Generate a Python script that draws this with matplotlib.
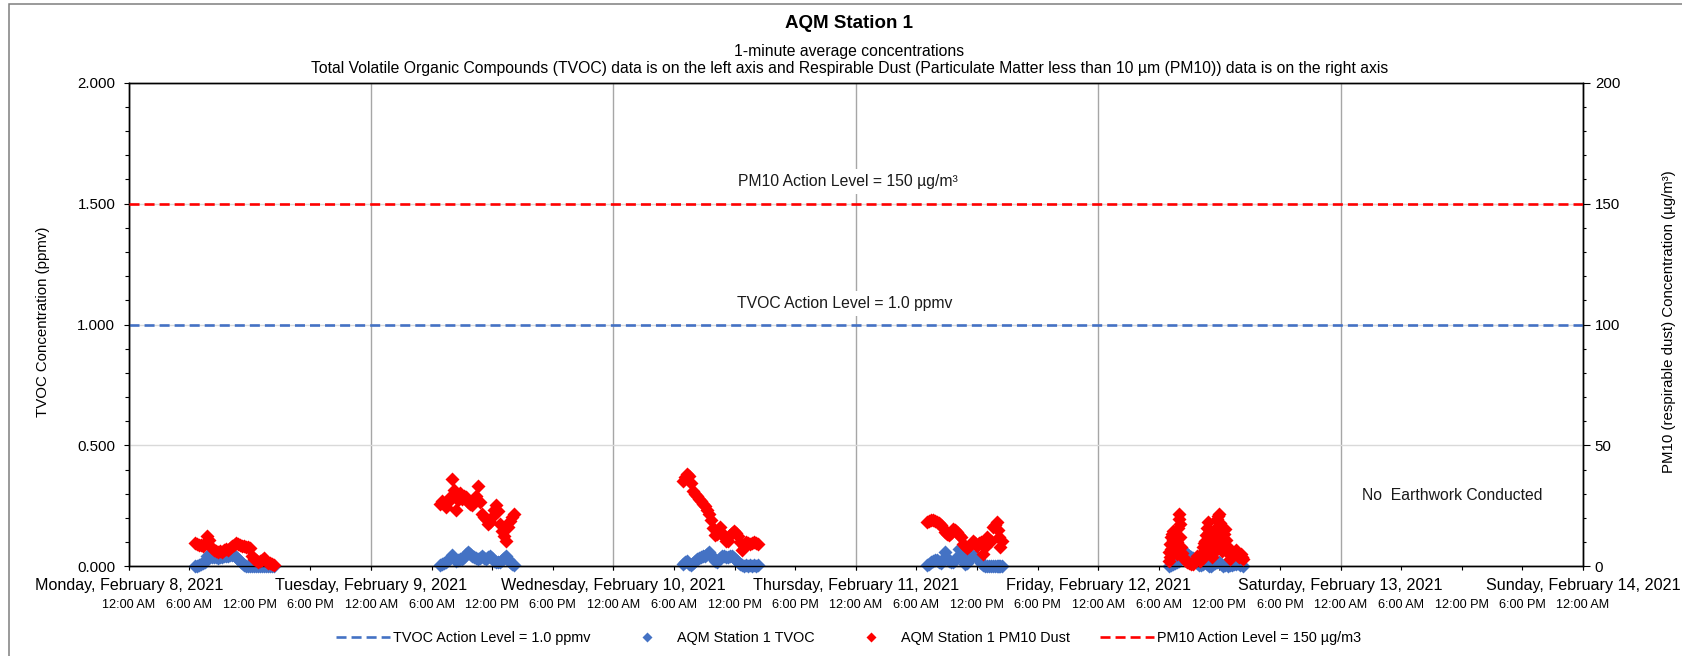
import matplotlib
matplotlib.use("Agg")
import matplotlib.pyplot as plt
from matplotlib.patches import Rectangle
from matplotlib.ticker import MultipleLocator, FixedLocator
from matplotlib.transforms import blended_transform_factory

plt.rcParams['font.family'] = ['Liberation Sans', 'DejaVu Sans']

# ---------------- data (hours of day, values) ----------------
day_labels = ["Monday, February 8, 2021", "Tuesday, February 9, 2021",
              "Wednesday, February 10, 2021", "Thursday, February 11, 2021",
              "Friday, February 12, 2021", "Saturday, February 13, 2021",
              "Sunday, February 14, 2021"]
time_labels = ["12:00 AM", "6:00 AM", "12:00 PM", "6:00 PM"]

tvoc_action = 1.0      # ppmv
pm10_action = 150.0    # ug/m3

mon_hours = [6.6, 6.8, 7.0, 7.2, 7.4, 7.6, 7.8, 8.0, 8.2, 8.4, 8.6, 8.8, 9.0, 9.2, 9.4, 9.6, 9.8, 10.0, 10.2, 10.4,
             10.6, 10.8, 11.0, 11.2, 11.4, 11.6, 11.8, 12.0, 12.2, 12.4, 12.6, 12.8, 13.0, 13.2, 13.4, 13.6, 13.8, 14.0, 14.2, 14.4]
mon_pm10 = [9.8, 9.4, 9.0, 8.8, 8.4, 9.5, 12.5, 11.0, 7.5, 6.8, 6.2, 5.8, 6.4, 6.0, 6.8, 7.2, 6.9, 7.8, 8.4, 9.0,
            9.6, 9.2, 8.8, 8.4, 8.6, 8.0, 8.2, 7.6, 4.5, 3.2, 2.6, 2.0, 2.4, 2.8, 3.4, 2.4, 1.6, 1.4, 0.8, 0.4]
mon_tvoc = [0.000, 0.002, 0.005, 0.010, 0.013, 0.020, 0.042, 0.045, 0.040, 0.037, 0.039, 0.036, 0.040, 0.038, 0.041,
            0.043, 0.045, 0.047, 0.048, 0.046, 0.038, 0.030, 0.022, 0.012, 0.006, 0.003, 0.002, 0.001, 0.001, 0.000,
            0.001, 0.000, 0.001, 0.000, 0.001, 0.000, 0.001, 0.000, 0.000, 0.000]

tue_hours = [6.8, 7.0, 7.2, 7.4, 7.6, 7.8, 8.0, 8.2, 8.4, 8.6, 8.8, 9.0, 9.2, 9.4, 9.6, 9.8, 10.0, 10.2, 10.4, 10.6,
             10.8, 11.0, 11.2, 11.4, 11.6, 11.8, 12.0, 12.2, 12.4, 12.6, 12.8, 13.0, 13.2, 13.4, 13.6, 13.8, 14.0, 14.2]
tue_pm10 = [25.9, 27.0, 26.0, 24.5, 26.5, 28.6, 36.2, 31.4, 23.5, 27.5, 30.5, 27.9, 29.0, 28.5, 26.5, 25.8, 25.2, 27.0,
            29.0, 33.4, 26.5, 21.7, 20.5, 19.5, 17.6, 18.5, 20.3, 23.5, 25.2, 23.1, 17.6, 14.5, 12.5, 10.4, 16.2, 18.8,
            20.3, 21.7]
tue_tvoc = [0.004, 0.010, 0.015, 0.020, 0.027, 0.035, 0.049, 0.035, 0.024, 0.028, 0.032, 0.031, 0.040, 0.052, 0.059,
            0.050, 0.042, 0.038, 0.035, 0.031, 0.036, 0.041, 0.036, 0.031, 0.040, 0.045, 0.035, 0.024, 0.020, 0.018,
            0.017, 0.025, 0.035, 0.041, 0.030, 0.017, 0.008, 0.004]

wed_hours = [6.9, 7.1, 7.3, 7.5, 7.7, 7.9, 8.1, 8.3, 8.5, 8.7, 8.9, 9.1, 9.3, 9.5, 9.7, 9.9, 10.1, 10.3, 10.5, 10.7,
             10.9, 11.1, 11.3, 11.5, 11.7, 11.9, 12.1, 12.3, 12.5, 12.7, 12.9, 13.1, 13.3, 13.5, 13.7, 13.9, 14.1, 14.3]
wed_pm10 = [35.5, 37.0, 38.3, 37.5, 34.5, 31.0, 30.0, 29.0, 28.0, 27.0, 26.0, 25.0, 23.5, 21.5, 19.0, 16.0, 13.0, 13.5,
            16.2, 14.0, 12.1, 10.5, 10.5, 12.8, 13.8, 14.8, 14.0, 12.5, 10.0, 6.6, 8.5, 10.0, 9.5, 9.3, 9.8, 10.2, 9.8, 9.3]
wed_tvoc = [0.011, 0.020, 0.024, 0.008, 0.004, 0.015, 0.024, 0.030, 0.036, 0.038, 0.042, 0.045, 0.052, 0.059, 0.045,
            0.038, 0.022, 0.017, 0.035, 0.045, 0.042, 0.038, 0.040, 0.044, 0.045, 0.036, 0.026, 0.018, 0.010, 0.004,
            0.003, 0.004, 0.003, 0.004, 0.003, 0.004, 0.003, 0.004]

thu_hours = [7.0, 7.2, 7.4, 7.6, 7.8, 8.0, 8.2, 8.4, 8.6, 8.8, 9.0, 9.2, 9.4, 9.6, 9.8, 10.0, 10.2, 10.4, 10.6, 10.8,
             11.0, 11.2, 11.4, 11.6, 11.8, 12.0, 12.2, 12.4, 12.6, 12.8, 13.0, 13.2, 13.4, 13.6, 13.8, 14.0, 14.1, 14.2, 14.3, 14.5]
thu_pm10 = [18.3, 18.8, 19.0, 19.2, 18.8, 18.3, 17.8, 17.2, 16.0, 14.1, 13.5, 12.8, 14.0, 15.5, 15.0, 14.1, 13.0, 12.1,
            9.3, 8.5, 7.7, 8.5, 9.3, 10.7, 9.8, 8.6, 9.5, 10.0, 5.2, 8.0, 12.1, 11.0, 10.7, 16.2, 17.0, 18.3, 15.0, 12.1,
            7.9, 10.7]
thu_tvoc = [0.004, 0.010, 0.017, 0.022, 0.027, 0.027, 0.018, 0.012, 0.030, 0.059, 0.035, 0.024, 0.020, 0.017, 0.028,
            0.038, 0.073, 0.050, 0.030, 0.010, 0.015, 0.027, 0.038, 0.045, 0.042, 0.038, 0.030, 0.015, 0.004, 0.002,
            0.002, 0.002, 0.002, 0.002, 0.002, 0.002, 0.002, 0.002, 0.002, 0.002]

fri_pm10_hours = [7.0, 7.05, 7.1, 7.2, 7.3, 7.4, 7.5, 7.6, 7.7, 7.8, 7.9, 7.95, 8.0, 8.05, 8.1, 8.2, 8.3, 8.4, 8.6, 8.8,
                  9.0, 9.2, 9.4, 9.6, 9.8, 10.0, 10.1, 10.3, 10.4, 10.5, 10.6, 10.7, 10.8, 10.9, 11.0, 11.1, 11.2, 11.3,
                  11.5, 11.6, 11.7, 11.8, 11.9, 12.0, 12.05, 12.1, 12.2, 12.3, 12.5, 12.6, 12.7, 12.8, 12.9, 13.0, 13.2,
                  13.3, 13.5, 13.6, 13.8, 13.9, 14.0, 14.1, 14.2, 14.3]
fri_pm10 = [2.4, 6.0, 9.3, 12.0, 13.5, 14.8, 14.0, 12.0, 10.7, 10.0, 16.0, 21.7, 19.5, 17.5, 12.0, 7.9, 5.5, 3.8, 2.5,
            1.7, 1.2, 1.0, 0.9, 2.5, 4.5, 3.0, 2.4, 5.5, 7.9, 9.5, 10.7, 13.0, 16.0, 18.3, 14.1, 11.0, 9.3, 8.0, 10.7,
            12.0, 16.0, 19.7, 21.0, 21.7, 18.0, 14.1, 11.5, 10.7, 13.5, 15.5, 11.0, 7.9, 5.0, 3.1, 4.2, 5.2, 6.0, 6.6,
            4.5, 3.8, 4.4, 5.2, 4.0, 3.1]
# lower readings inside the dense Friday clusters
fri_pm10_low_hours = [7.15, 7.25, 7.35, 7.45, 7.55, 7.65, 7.75, 7.85, 10.35, 10.45, 10.55, 10.65, 10.75, 10.85,
                      10.95, 11.05, 11.15, 11.25, 11.4, 11.55, 11.65, 11.75, 11.85, 11.95, 12.15, 12.25, 12.4,
                      12.45, 12.55]
fri_pm10_low = [4.0, 7.0, 9.0, 11.0, 8.5, 6.5, 5.0, 7.0, 3.5, 5.0, 6.0, 8.0, 5.5, 9.0, 10.0, 6.0, 5.0, 4.0, 5.5, 6.5,
                8.0, 9.0, 12.0, 9.5, 8.0, 6.5, 8.0, 11.0, 9.0]
fri_tvoc_hours = [7.0, 7.2, 7.4, 7.6, 7.8, 8.0, 8.2, 8.4, 8.6, 8.8, 9.0, 9.2, 9.4, 9.6, 9.8, 10.0, 10.2, 10.4, 10.6,
                  10.8, 11.0, 11.2, 11.4, 11.6, 11.8, 12.0, 12.2, 12.4, 12.6, 12.8, 13.0, 13.2, 13.4, 13.6, 13.8, 14.0, 14.3]
fri_tvoc = [0.000, 0.004, 0.008, 0.012, 0.018, 0.024, 0.035, 0.050, 0.059, 0.052, 0.045, 0.040, 0.035, 0.024, 0.015,
            0.004, 0.004, 0.010, 0.017, 0.010, 0.002, 0.000, 0.008, 0.012, 0.017, 0.017, 0.008, 0.002, 0.004, 0.002,
            0.004, 0.006, 0.008, 0.010, 0.012, 0.006, 0.002]

tvoc_days = [(0, mon_hours, mon_tvoc), (1, tue_hours, tue_tvoc), (2, wed_hours, wed_tvoc),
             (3, thu_hours, thu_tvoc), (4, fri_tvoc_hours, fri_tvoc)]
pm10_days = [(0, mon_hours, mon_pm10), (1, tue_hours, tue_pm10), (2, wed_hours, wed_pm10),
             (3, thu_hours, thu_pm10), (4, fri_pm10_hours, fri_pm10), (4, fri_pm10_low_hours, fri_pm10_low)]

tvoc_x, tvoc_y = [], []
for d, hrs, vals in tvoc_days:
    tvoc_x += [24 * d + h for h in hrs]
    tvoc_y += list(vals)
pm10_x, pm10_y = [], []
for d, hrs, vals in pm10_days:
    pm10_x += [24 * d + h for h in hrs]
    pm10_y += list(vals)

BLUE = '#4472C4'
RED = '#FF0000'

# ---------------- figure ----------------
W, H = 1682, 656
fig = plt.figure(figsize=(W / 100, H / 100), dpi=100)
L, R, T, B = 128.7, 1583.0, 82.6, 566.4
ax = fig.add_axes([L / W, 1 - B / H, (R - L) / W, (B - T) / H])
ax2 = ax.twinx()

ax.set_xlim(0, 144)
ax.set_ylim(0, 2.0)
ax2.set_ylim(0, 200)

# grid / ticks
ax.yaxis.set_major_locator(FixedLocator([0, 0.5, 1.0, 1.5, 2.0]))
ax.yaxis.set_minor_locator(MultipleLocator(0.1))
ax.set_yticklabels(["%.3f" % v for v in [0, 0.5, 1.0, 1.5, 2.0]])
ax.grid(axis='y', which='major', color='#D9D9D9', lw=1.0, zorder=0)

ax.xaxis.remove_overlapping_locs = False
ax.set_xticks([24 * i for i in range(7)])
ax.set_xticks([6 * i for i in range(25)], [time_labels[i % 4] for i in range(25)], minor=True)
ax.tick_params(axis='x', which='major', labelbottom=False, direction='out', length=2.9, width=0.8)
ax.tick_params(axis='x', which='minor', direction='out', length=2.9, width=0.8, pad=20.5, labelsize=9.1)
ax.grid(axis='x', which='major', color='#A6A6A6', lw=1.0)
ax.tick_params(axis='y', which='major', direction='out', length=3.3, width=0.8, pad=6.3, labelsize=10.8)
ax.tick_params(axis='y', which='minor', direction='out', length=3.0, width=0.8)
ax.set_axisbelow(True)

ax2.yaxis.set_major_locator(MultipleLocator(50))
ax2.yaxis.set_minor_locator(MultipleLocator(10))
ax2.tick_params(axis='y', which='major', direction='out', length=5, width=0.8, pad=3.5, labelsize=10.8)
ax2.tick_params(axis='y', which='minor', direction='out', length=2.2, width=0.8)

for a in (ax, ax2):
    for s in a.spines.values():
        s.set_color('black')
        s.set_linewidth(1.0)

# action levels
ax.axhline(tvoc_action, color=BLUE, lw=1.9, ls=(0, (3.8, 1.9)), zorder=3,
           label='TVOC Action Level = 1.0 ppmv')
ax2.axhline(pm10_action, color=RED, lw=1.9, ls=(0, (3.8, 1.9)), zorder=3,
            label='PM10 Action Level = 150 µg/m3')

# data
ax.plot(tvoc_x, tvoc_y, ls='none', marker='D', ms=7.6, mec='none', color=BLUE, clip_on=False, zorder=4,
        label='AQM Station 1 TVOC')
ax2.plot(pm10_x, pm10_y, ls='none', marker='D', ms=7.6, mec='none', color=RED, clip_on=False, zorder=4,
         label='AQM Station 1 PM10 Dust')

# annotations
ann_kw = dict(ha='center', va='center', fontsize=11.3, color='#1a1a1a',
              bbox=dict(facecolor='white', edgecolor='none', pad=3.5), zorder=5)
ax2.text(71.2, 159.0, 'PM10 Action Level = 150 µg/m³', **ann_kw)
ax2.text(70.9, 108.8, 'TVOC Action Level = 1.0 ppmv', **ann_kw)
ax2.text(131.1, 29.5, 'No  Earthwork Conducted', ha='center', va='center', fontsize=11.3, color='#1a1a1a')

# day labels
tr = blended_transform_factory(ax.transData, ax.transAxes)
for i, lab in enumerate(day_labels):
    ax.text(24 * i, -0.0399, lab, transform=tr, ha='center', va='center', fontsize=11.6, clip_on=False)

# axis labels
fig.text(43 / W, 1 - 322 / H, 'TVOC Concentration (ppmv)', rotation=90, ha='center', va='center', fontsize=10.8)
fig.text(1669 / W, 1 - 322 / H, 'PM10 (respirable dust) Concentration (µg/m³)', rotation=90,
         ha='center', va='center', fontsize=10.8)

# titles
fig.text(0.505, 1 - 23 / H, 'AQM Station 1', ha='center', va='center', fontsize=13.5, fontweight='bold')
fig.text(0.505, 1 - 51.5 / H, '1-minute average concentrations', ha='center', va='center', fontsize=11.3)
fig.text(0.505, 1 - 68.5 / H,
         'Total Volatile Organic Compounds (TVOC) data is on the left axis and Respirable Dust '
         '(Particulate Matter less than 10 µm (PM10)) data is on the right axis',
         ha='center', va='center', fontsize=11.3)

# legend
h1, l1 = ax.get_legend_handles_labels()
h2, l2 = ax2.get_legend_handles_labels()
hd = dict(zip(l1 + l2, h1 + h2))
order = ['TVOC Action Level = 1.0 ppmv', 'AQM Station 1 TVOC', 'AQM Station 1 PM10 Dust',
         'PM10 Action Level = 150 µg/m3']
fig.legend([hd[k] for k in order], order, loc='center', bbox_to_anchor=(848.5 / W, 1 - 638 / H), ncol=4,
           frameon=False, fontsize=10.4, handlelength=3.7, handletextpad=0.2, columnspacing=2.1,
           markerscale=0.67)

# outer border
fig.patches.append(Rectangle((9 / W, -0.05), 1.2, 1 - 4.5 / H + 0.05, transform=fig.transFigure,
                             fill=False, edgecolor='#7F7F7F', lw=1.1))

fig.savefig('out.png', dpi=100)
